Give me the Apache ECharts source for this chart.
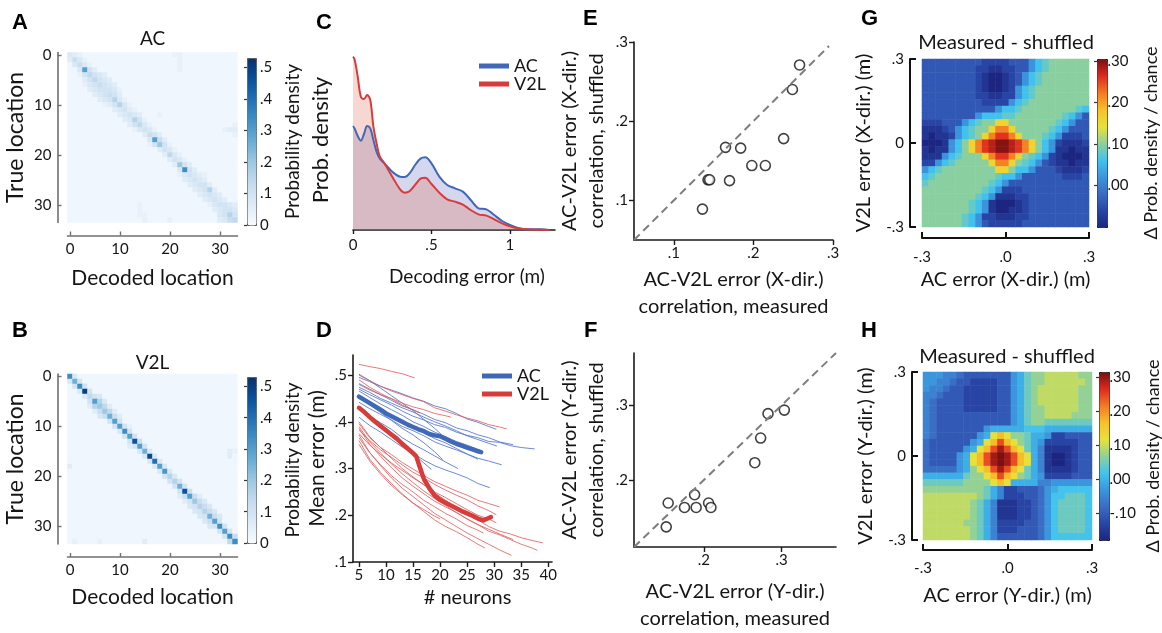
<!DOCTYPE html>
<html>
<head>
<meta charset="utf-8">
<script src="https://cdn.jsdelivr.net/npm/echarts@6.0.0/dist/echarts.min.js"></script>
<style>
html,body{margin:0;padding:0;background:#ffffff;}
#chart{width:1162px;height:633px;}
</style>
</head>
<body>
<div id="chart"></div>
<script>
// ================= DATA =================
// Panels A/B: decoded vs true location (34 x 34), letter level: a = 0, each next letter +0.02
const locCats = [0,1,2,3,4,5,6,7,8,9,10,11,12,13,14,15,16,17,18,19,20,21,22,23,24,25,26,27,28,29,30,31,32,33];
const locationTicks = [0, 10, 20, 30];
const matrixLevelStep = 0.02;
const acMatrixRows = [
  "edcbbbbbbb bbbbbbbbbb bccbbbbbbb bbbb",
  "dgecbbbbbb bbbbbbbbbb bbcbbbbbbb bbbb",
  "begecbbbbb bbbbbbbbbb bbcbbbbbbb bbbb",
  "bbepfdbbbb bbbbbbbbbb bbcbbbbbbb bbbb",
  "bbcfhfedbb bbbbbbbbbb bbbbbbbbbb bbbb",
  "bbbdfhfedb bbbbbbbbbb bbbbbbbbbb bbbb",
  "bbbcefgfed bbbbbbbbbb bbbbbbbbbb bbbb",
  "bbbbdefffe cbbbbbbbbb bbbbbbbbbb bbbb",
  "bbbbbdefgf dbbbbbbbbb bbbbbbbbbb bbbb",
  "bbbbbbdefi ecbbbbbbbb bbbbbbbbbb bbbb",
  "bbbbbbbcdf iecbbbbbbb bbbbbbbbbb bbbb",
  "bbbbbbbbbd efdcbbbbbb bbbbbbbbbb bbbb",
  "bbbbbbbbbb defedbbbcb bbbbbbbbbb bbbb",
  "bbbbbbbbbb bdeifcbbbb bbbbbbbbbb bbbb",
  "bbbbbbbbbb bbdfhecbbb bbbbbbbbbb bbbc",
  "bbbbbbbbbb bbbcefecbb bbbbbbbbbb bcdd",
  "bbbbbbbbbb bbbbbdgfdb bbbbbbbbbb bbbc",
  "bbbbbbbbbb bbbbbbepgd bbbbbbbbbb bbbb",
  "bbbbbbbbbb bbbbbbcfkf cbbbbbbbbb bbbb",
  "bbbbbbbbbb bbbbbbbbdf ecbbbbbbbb bbbb",
  "bbbbbbbbbb bbbbbbbbbd hecbbbbbbb bbbb",
  "bbbbbbbbbb bbbbbbbbbb dfecbbbbbb bbbb",
  "bbbbbbbbbb bbbbbbbbbb bdkfdbbbbb bbbb",
  "bbbbbbbbbb bbbbbbbbbb bberfdbbbb bbbb",
  "bbbbbbbbbb bbbbbbbbbb bbcefedcbb bbbb",
  "bbbbbbbbbb bbbbbbbbbb bbbdefedbb bbbb",
  "bbbbbbbbbb bbbbbbbbbb bbbbdeffdb bbbb",
  "bbbbbbbbbb bbbbbbbbbb bbbbbdefid bbbb",
  "bbbbbbbbbb bbbbbbbbbb bbbbbbdefe dbbb",
  "bbbbbbbbbb bbbbbbbbbb bbbbbbbdef edbb",
  "bbbbbbbbbb bbbbcbbbbb bbbbbbbbce ffed",
  "bbbbbbbbbb bbbbcbbbbb bbbbbbbbbd effe",
  "bbbbbbbbbb bbbbccbbbb bbbbbbbbbb efif",
  "bbbbbbbbbb bbbbbcbbbb cbbbbbbbbb degh"
];
const v2lMatrixRows = [
  "rebbbbbbbb bbbbbbbbbb bbbbbbbbbb bbbb",
  "enfbbbbbbb bbbbbbbbbb bbbbbbbbbb bbbb",
  "bfrfbbbbbb bbbbbbbbbb bbbbbbbbbb bbbb",
  "bbezfbbbbb bbbbbbbbbb bbbbbbbbbb bbbb",
  "bbbehfebbb bbbbbbbbbb bbbbbbbbbb bbbb",
  "bbbbfpiebb bbbbbbbbbb bbbbbbbbbb bbbb",
  "bbbbdikhdb bbbbbbbbbb bbbbbbbbbb bbbb",
  "bbbbbdgkhd bbbbbbbbbb bbbbbbbbbb bbbb",
  "bbbbbbegng dbbbbbbbbb bbbbbbbbbb bbbb",
  "bbbbbbbbfp fbbbbbbbbb bbbbbbbbbb bbbb",
  "bbbbbbbbbf pfcbbbbbbb bbbbbbbbbb bbbb",
  "bbbbbbbbbb erfbbbbbbb bbbbbbbbbb bbbb",
  "bbbbbbbbbb bfpfbbbbbb bbbbbbbbbb bbbb",
  "bbbbbbbbbb bbfxgbbbbb bbbbbbbbbb bbbb",
  "bbbbbbbbbb bbdfpfbbbb bbbbbbbbbb bbbb",
  "bbbbbbbbbb bbbbenebbb bbbbbbbbbb bbdc",
  "bbbbbbbbbb bbbbbeyebb bbbbbbbbbb bbdb",
  "bbbbbbbbbb bbbbbbeueb bbbbbbbbbb bbbb",
  "dbbbbbbbbb bbbbbbbepe bbbbbbbbbb bbbb",
  "bbbbbbbbbb bbbbbbbbeq ebbbbbbbbb bbbb",
  "bbbbbbbbbb bbbbbbbbbf iebbbbbbbb bbbb",
  "bbbbbbbbbb bbbbbbbbbb fifbbbbbbb bbbb",
  "bbbbbbbbbb bbbbbbbbbb bfnfbbbbbb bbbb",
  "bbbbbbbbbb bbbbbbbbbb bbfxgbbbbb bbbb",
  "bbbbbbbbbb bbbbbbbbbb bbdgpgdbbb bbbb",
  "bbbbbbbbbb bbbbbbbbbb bbbdfkgebb bbbb",
  "bbbbbbbbbb bbbbbbbbbb bbbbefigeb bbbb",
  "bbbbbbbbbb bbbbbbbbbb bbbbbefige bbbb",
  "bbbbbbbbbb bbbbbbbbbb bbbbbbefng ebbb",
  "bbbbbbbbbb bbbbbbbbbb bbbbbbbegp fbbb",
  "bbbbbbbbbb bbbbbbbbbb bbbbbbbbef rfbb",
  "bbbbbbbbbb bbbbbbbbbb bbbbbbbbbb fpfb",
  "bbbbbbbbbb bbbbbbbbbb bbbbbbbbbb bfrg",
  "bcbbbbcbbb bbbbbdbbbb bbbbbbbbbb bbhr"
];
const probColorbarTicks = [0, 0.1, 0.2, 0.3, 0.4, 0.5];

// Panel C: decoding error density
const errX       = [0,.01,.03,.05,.07,.09,.11,.13,.15,.17,.20,.25,.30,.33,.36,.40,.43,.46,.50,.55,.60,.65,.70,.75,.80,.85,.90,.95,1.00,1.05,1.10,1.15,1.20,1.25];
const acDensity  = [3.12,3.05,2.82,2.68,2.88,3.12,3.05,2.70,2.35,2.15,2.00,1.75,1.60,1.59,1.70,1.98,2.14,2.18,2.00,1.60,1.35,1.25,1.15,0.90,0.65,0.62,0.45,0.27,0.15,0.06,0.02,0.02,0.02,0.0];
const v2lDensity = [5.20,5.12,4.60,4.00,3.93,4.05,3.90,3.10,2.60,2.22,2.00,1.60,1.22,1.12,1.16,1.38,1.54,1.57,1.38,1.12,0.92,0.85,0.76,0.60,0.47,0.43,0.32,0.20,0.11,0.05,0.02,0.01,0.01,0.0];
const errTicks = [0, 0.5, 1];

// Panel D: mean error vs # neurons
const neuronTicks = [5,10,15,20,25,30,35,40];
const meanErrTicks = [0.1,0.2,0.3,0.4,0.5];
const acRuns = [
  [[5,.470],[7,.458],[9,.447],[11,.436],[13,.423],[15,.412],[17,.404],[19,.394],[21,.388],[23,.378],[25,.371],[27,.366],[29,.358],[31,.356],[33,.349],[35,.345],[37.5,.342]],
  [[5,.495],[7,.486],[9,.476],[11,.468],[13,.460],[15,.451],[17,.444],[19,.434],[21,.428],[23,.418],[25,.406],[27,.399],[29,.390],[30.4,.384]],
  [[5,.482],[7,.470],[9,.458],[11,.446],[13,.434],[15,.426],[17,.416],[19,.405],[21,.398],[23,.387],[25,.381],[27,.372],[29,.366],[31,.357],[33.5,.351]],
  [[5,.442],[7,.428],[9,.416],[11,.404],[13,.390],[15,.381],[17,.370],[19,.357],[21,.348],[23,.340],[25,.331],[27,.322],[29,.316],[31.4,.308]],
  [[5,.410],[7,.392],[9,.378],[11,.362],[13,.346],[15,.333],[17,.318],[19,.306],[21,.297],[23,.289],[25,.280],[27,.268],[29.2,.259]],
  [[5,.430],[7,.412],[9,.398],[11,.384],[13,.366],[15,.352],[17,.340],[19,.327],[21,.314],[23.3,.300]],
  [[5,.455],[7,.436],[9,.420],[11,.403],[13,.386],[15,.372],[17,.355],[19,.336],[20.5,.319]],
  [[5,.428],[7,.407],[9,.388],[11,.369],[13,.350],[15,.332],[17,.312],[18.4,.298]],
  [[5,.466],[7,.452],[9,.438],[11,.426],[13,.414],[15,.400],[17,.390],[19,.378],[21,.368],[23,.358],[25,.350],[27.3,.340]],
  [[5,.450],[7,.437],[9,.425],[11,.413],[13,.401],[15,.390],[17,.378],[19,.364],[21,.355],[23,.343],[25,.331],[27,.320]],
  [[5,.474],[7,.463],[9,.450],[11,.440],[13,.430],[15,.421],[17,.410],[19,.400],[21,.391],[23,.381],[25,.370],[27,.362],[29,.354],[30.5,.348]],
  [[5,.502],[7,.488],[9,.472],[11,.456],[13,.440],[15,.424],[17,.405],[19,.386],[21,.365],[22,.355]]
];
const v2lRuns = [
  [[5,.523],[7,.518],[9,.514],[11,.508],[13,.503],[15.3,.494]],
  [[5,.500],[7,.488],[9,.476],[11,.466],[13,.458],[15,.450],[17,.443],[19,.430],[21,.423],[23,.415],[25,.408],[27,.402],[29,.394],[31,.389],[32.3,.385]],
  [[5,.490],[7,.474],[9,.461],[11,.449],[13,.436],[15,.425],[16.2,.419]],
  [[5,.400],[7,.368],[9,.345],[11,.322],[13,.300],[15,.282],[17,.265],[19,.248],[21,.232],[23,.216],[25,.202],[27,.190],[29,.176],[31,.166],[33,.160],[35,.152],[37,.146],[39,.141]],
  [[5,.390],[7,.357],[9,.333],[11,.310],[13,.289],[15,.270],[17,.252],[19,.236],[21,.221],[23,.206],[25,.192],[27,.180],[29,.166],[31,.158],[33,.148],[35,.138],[37,.130],[38,.125]],
  [[5,.372],[7,.334],[9,.306],[11,.280],[13,.258],[15,.240],[17,.222],[19,.204],[21,.190],[23,.176],[25,.162],[27,.150],[29,.138],[31,.126],[33.2,.114]],
  [[5,.382],[7,.360],[9,.340],[11,.324],[13,.308],[15,.292],[17,.280],[19,.266],[21,.254],[23,.243],[25,.233],[27,.220],[29,.210],[30.4,.201]],
  [[5,.375],[7,.350],[9,.330],[11,.312],[13,.296],[15,.280],[17,.266],[19,.250],[21,.238],[23,.225],[25,.212],[27,.200],[29,.192],[30.4,.184]],
  [[5,.360],[7,.320],[9,.292],[11,.268],[13,.246],[15,.226],[17,.208],[19,.190],[21,.176],[23,.165],[25,.152],[27,.138],[28.3,.130]],
  [[5,.386],[7,.352],[9,.326],[11,.302],[13,.280],[15,.262],[17,.246],[19,.230],[21,.218],[23,.206],[25,.192],[27,.180],[29,.170],[31,.160],[33.5,.148]],
  [[5,.352],[7,.316],[9,.288],[11,.264],[13,.244],[15,.226],[17,.212],[19,.198],[20,.192]],
  [[5,.366],[7,.334],[9,.308],[11,.285],[13,.266],[15,.250],[17,.232],[19,.218],[21,.204],[23,.192],[25,.178],[27,.168],[28,.162]],
  [[5,.480],[7,.468],[9,.458],[11,.450],[13,.440],[15,.432],[17,.426],[19,.418],[21,.413],[22,.410]],
  [[5,.396],[7,.366],[9,.345],[11,.330],[13,.313],[15,.299],[17,.285],[19,.272],[21,.262],[23,.252],[25,.243],[27,.232],[29,.225],[31,.218]]
];
const acMean = [[5,.454],[6,.447],[7,.440],[8,.433],[9,.426],[10,.418],[11,.412],[12,.406],[13,.400],[14,.394],[15,.389],[16,.384],[17,.380],[18,.374],[19,.371],[20,.369],[21,.364],[22,.358],[23,.353],[24,.349],[25,.345],[26,.341],[27,.337],[27.6,.335]];
const v2lMean = [[5,.430],[6,.421],[7,.410],[8,.400],[9,.391],[10,.382],[11,.373],[12,.364],[13,.353],[14,.343],[15,.333],[15.6,.326],[16.2,.305],[17,.278],[18,.258],[19,.242],[20,.233],[21,.227],[22,.221],[23,.215],[24,.209],[25,.204],[26,.199],[27,.193],[28,.189],[28.8,.193],[29.4,.196]];

// Panels E/F: error correlations
const eMeasured = [0.258,0.249,0.238,0.165,0.184,0.198,0.215,0.143,0.145,0.170,0.136];
const eShuffled = [0.271,0.240,0.178,0.167,0.166,0.144,0.144,0.126,0.126,0.125,0.089];
const eDiagonal = [0.05, 0.295];
const eTicks = [0.1, 0.2, 0.3];
const fMeasured = [0.3035,0.2825,0.273,0.2655,0.188,0.154,0.206,0.175,0.190,0.209,0.1515];
const fShuffled = [0.2935,0.2887,0.256,0.223,0.180,0.169,0.169,0.163,0.163,0.163,0.137];
const fDiagonal = [0.11, 0.37];
const fTicks = [0.2, 0.3];

// Panels G/H: measured - shuffled joint error maps (25 x 25, rows from +0.3 down to -0.3)
const errCells = [0,1,2,3,4,5,6,7,8,9,10,11,12,13,14,15,16,17,18,19,20,21,22,23,24];
const jointTicks = [-0.3, 0, 0.3];
const gLevelBase = -0.10, gLevelStep = 0.02;
const gRows = [
  "dddddddddccccdddgijkkkkkk",
  "ddddddddccbbccddgijkkkkkk",
  "ddddddddcbaabcdgijkkkkkkk",
  "ddddddddcbaabcdgijkkkkkkk",
  "ddddddddcbaabcgijkkkkkkkk",
  "ddddddddccbbccgijkkkkkkkk",
  "dddddddddccccgijkkkkkkkkk",
  "dddddddddddgiijkkkkkkkkji",
  "ddddddddgiiijjkkkkkkkjigd",
  "cccdddgijkknnkkkkkkkjigdd",
  "bbbcdgijkknqqnkkkkkjigddd",
  "babbcgijknqssqnkkkjigcccd",
  "aaabgiknqstuutsqnkigcbbbc",
  "babbgiknqstuutsqnkigbbabb",
  "bbbgijkkknqssqnkjigcbaaab",
  "ccgijkkkkknqqnkjigdcbbabb",
  "gijkkkkkkkknnkiigdddcbbbc",
  "ijkkkkkkkkkjiigddddddcccd",
  "jkkkkkkkkkjigdddddddddddd",
  "kkkkkkkkkjigcccdddddddddd",
  "kkkkkkkkjigbbbccddddddddd",
  "kkkkkkkjigbaaabcddddddddd",
  "kkkkkkkjigbaabbcddddddddd",
  "kkkkkkjigccbbbccddddddddd",
  "kkkkkkjigdcccccdddddddddd"
];
const gColorbarTicks = [0, 0.1, 0.2, 0.3];
const hLevelBase = -0.18, hLevelStep = 0.025;
const hRows = [
  "gggffedddddddghjkklllllkk",
  "ggffeddccccddghjkkllllllk",
  "gffeddcccccddghjkllllllkk",
  "ffedddcccccddghjkllllllkk",
  "feddddcccccddghjkllllllkk",
  "feddddcccccddghjkklllllkk",
  "fedddddddddddghjkkllllkkk",
  "fedddddddddddghjkkjjjjjjj",
  "fedddddddghhhhhiiihhhhhhh",
  "feddddddghmomkkjhhgccdddd",
  "eddddddghmoromkjhgcccccdd",
  "edddddghmortromjhfbbbbcdd",
  "eddddghmortutromhfbaabcdd",
  "eddddghmortutromhfbaabcdd",
  "eeeeeghkmortromjhfbbbbcdd",
  "hhhhhhjkkmoromkjhgccccddd",
  "jjjjjjkkkkmomhhhhffgggggg",
  "kkkkkkkkkjhfccdddeghiiiii",
  "llllllllkjhfcccddegiijjji",
  "lllllllkjhfbbbccdegijjjji",
  "lllllllkjhfbbbccdegijjjji",
  "lllllllkjhfbbbccdegijjjji",
  "llllllkkjhfccccddegijjjji",
  "lllllllkjhfcccdddegijjjji",
  "lllllllkjhfddddddegiiiiii"
];
const hColorbarTicks = [-0.1, 0, 0.1, 0.2, 0.3];

// ================= HELPERS =================
const LEVELS = 'abcdefghijklmnopqrstuvwxyz';
function cellsFromRows(rows, base, step) {
  const cells = [];
  rows.forEach(function (row, r) {
    const chars = row.replace(/ /g, '');
    for (let c = 0; c < chars.length; c++) {
      cells.push([c, r, Math.round((base + LEVELS.indexOf(chars[c]) * step) * 10000) / 10000]);
    }
  });
  return cells;
}
function merge(a, b) {
  const out = Object.assign({}, a);
  for (const k in b) {
    const bv = b[k], av = a ? a[k] : undefined;
    if (bv && typeof bv === 'object' && !Array.isArray(bv) && av && typeof av === 'object' && !Array.isArray(av)) out[k] = merge(av, bv);
    else out[k] = bv;
  }
  return out;
}
const fmtShort = v => String(Math.round(v * 1000) / 1000).replace(/^(-?)0\./, '$1.');
const fmtTwo = v => {
  if (Math.abs(v) < 1e-9) return '.00';
  const body = Math.abs(v).toFixed(2).replace(/^0/, '');
  return (v < 0 ? '-' : '') + body;
};
const fmtZeroDot = v => (Math.abs(v) < 1e-9 ? '.0' : fmtShort(v));

const FONT = 'Lato, "Open Sans", sans-serif';
const INK = '#1b1b1b';
const GREY = '#707070';
const AC_COLOR = '#4068b8';
const V2L_COLOR = '#d83c3a';
const labelStyle = {color: '#151515', fontSize: 15, fontFamily: FONT};
const nameStyle = {color: '#151515', fontSize: 20, fontFamily: FONT, lineHeight: 27};

function vAxis(extra) {
  return merge({
    type: 'value', splitLine: {show: false}, nameLocation: 'middle',
    axisLine: {show: true, onZero: false, lineStyle: {color: INK, width: 1.6}},
    axisTick: {show: true, length: 5, lineStyle: {color: INK, width: 1.4}},
    axisLabel: merge(labelStyle, {margin: 6}),
    nameTextStyle: nameStyle
  }, extra);
}
function hidden(extra) { return merge({type: 'value', show: false, splitLine: {show: false}}, extra); }
const every10 = idx => locationTicks.indexOf(locCats[idx]) >= 0;
function locAxis(extra) {
  return merge({
    type: 'category', data: locCats, nameLocation: 'middle',
    axisLine: {show: true, lineStyle: {color: GREY, width: 1.6}},
    axisTick: {show: true, alignWithLabel: true, interval: every10, inside: true, length: 4, lineStyle: {color: GREY, width: 1.4}},
    axisLabel: merge(labelStyle, {interval: every10, margin: 6}),
    splitLine: {show: false},
    nameTextStyle: merge(nameStyle, {fontSize: 21})
  }, extra);
}
function cbAxis(extra) {
  return merge({
    type: 'value', position: 'right', nameLocation: 'middle', nameRotate: 90,
    axisLine: {show: false}, splitLine: {show: false},
    axisTick: {show: true, inside: true, length: 3, lineStyle: {color: '#333', width: 1.2}},
    axisLabel: merge(labelStyle, {margin: 4, showMinLabel: true, showMaxLabel: true}),
    nameTextStyle: merge(nameStyle, {fontSize: 18})
  }, extra);
}
const catHidden = (g, isY) => ({type: 'category', gridIndex: g, data: errCells, show: false, inverse: !!isY});
function jointAxis(extra) {
  return vAxis(merge({min: -0.3, max: 0.3,
    axisLine: {lineStyle: {width: 2, color: '#111'}},
    axisTick: {inside: true, length: 6, customValues: jointTicks, lineStyle: {width: 2, color: '#111'}},
    axisLabel: {customValues: jointTicks}}, extra));
}

// ================= SERIES =================
const series = [];
const idx = {};
idx.A = series.push({type: 'heatmap', xAxisIndex: 0, yAxisIndex: 0, data: cellsFromRows(acMatrixRows, 0, matrixLevelStep), progressive: 0, silent: true}) - 1;
idx.B = series.push({type: 'heatmap', xAxisIndex: 2, yAxisIndex: 2, data: cellsFromRows(v2lMatrixRows, 0, matrixLevelStep), progressive: 0, silent: true}) - 1;

series.push({type: 'line', name: 'AC', xAxisIndex: 4, yAxisIndex: 4, data: errX.map((x, i) => [x, acDensity[i]]), smooth: 0.35, symbol: 'none',
  lineStyle: {color: AC_COLOR, width: 2}, itemStyle: {color: AC_COLOR}, areaStyle: {color: 'rgba(72,84,184,0.33)'}, silent: true});
series.push({type: 'line', name: 'V2L', xAxisIndex: 4, yAxisIndex: 4, data: errX.map((x, i) => [x, v2lDensity[i]]), smooth: 0.35, symbol: 'none',
  lineStyle: {color: V2L_COLOR, width: 2}, itemStyle: {color: V2L_COLOR}, areaStyle: {color: 'rgba(225,110,90,0.40)'}, silent: true});

acRuns.forEach(run => series.push({type: 'line', xAxisIndex: 5, yAxisIndex: 5, data: run, symbol: 'none', silent: true,
  lineStyle: {color: 'rgba(82,116,205,0.85)', width: 1}}));
v2lRuns.forEach(run => series.push({type: 'line', xAxisIndex: 5, yAxisIndex: 5, data: run, symbol: 'none', silent: true,
  lineStyle: {color: 'rgba(226,88,88,0.8)', width: 1}}));
series.push({type: 'line', name: 'AC', xAxisIndex: 5, yAxisIndex: 5, data: acMean, symbol: 'none', silent: true,
  lineStyle: {color: AC_COLOR, width: 4.5, cap: 'round', join: 'round'}, itemStyle: {color: AC_COLOR}});
series.push({type: 'line', name: 'V2L', xAxisIndex: 5, yAxisIndex: 5, data: v2lMean, symbol: 'none', silent: true,
  lineStyle: {color: V2L_COLOR, width: 4.5, cap: 'round', join: 'round'}, itemStyle: {color: V2L_COLOR}});

const dashed = {color: '#7d7d7d', width: 2, type: [8, 5]};
const ring = {color: '#ffffff', borderColor: '#111', borderWidth: 1.6};
series.push({type: 'line', xAxisIndex: 6, yAxisIndex: 6, data: eDiagonal.map(v => [v, v]), symbol: 'none', silent: true, lineStyle: dashed});
series.push({type: 'scatter', xAxisIndex: 6, yAxisIndex: 6, data: eMeasured.map((x, i) => [x, eShuffled[i]]), symbol: 'circle', symbolSize: 10, itemStyle: ring, silent: true});
series.push({type: 'line', xAxisIndex: 7, yAxisIndex: 7, data: fDiagonal.map(v => [v, v]), symbol: 'none', silent: true, lineStyle: dashed});
series.push({type: 'scatter', xAxisIndex: 7, yAxisIndex: 7, data: fMeasured.map((x, i) => [x, fShuffled[i]]), symbol: 'circle', symbolSize: 10, itemStyle: ring, silent: true});

idx.G = series.push({type: 'heatmap', xAxisIndex: 8, yAxisIndex: 8, data: cellsFromRows(gRows, gLevelBase, gLevelStep), progressive: 0, silent: true}) - 1;
idx.H = series.push({type: 'heatmap', xAxisIndex: 11, yAxisIndex: 11, data: cellsFromRows(hRows, hLevelBase, hLevelStep), progressive: 0, silent: true}) - 1;

const BLUES = ['#f7fbff', '#deebf7', '#c6dbef', '#9ecae1', '#6baed6', '#4292c6', '#2171b5', '#08519c', '#08306b'];
const JET = ['#1c2580', '#2845a5', '#3a6cc4', '#3b95dc', '#41c3ef', '#8fd09a', '#e6e23a', '#f7c12a', '#f37b24', '#de2b20', '#7a1010'];

const letter = (t, x, y) => ({type: 'text', x: x, y: y, silent: true,
  style: {text: t, font: 'bold 22px "Liberation Sans", Arial, sans-serif', fill: '#000', textVerticalAlign: 'top'}});

const option = {
  animation: false,
  backgroundColor: '#ffffff',
  textStyle: {fontFamily: FONT},
  title: [
    {text: 'AC', left: 152.5, top: 29, textAlign: 'center', padding: 0, textStyle: {fontSize: 19, fontWeight: 'normal', color: '#151515', fontFamily: FONT}},
    {text: 'V2L', left: 152.5, top: 353, textAlign: 'center', padding: 0, textStyle: {fontSize: 19, fontWeight: 'normal', color: '#151515', fontFamily: FONT}},
    {text: 'Measured - shuffled', left: 1006, top: 33, textAlign: 'center', padding: 0, textStyle: {fontSize: 20, fontWeight: 'normal', color: '#151515', fontFamily: FONT}},
    {text: 'Measured - shuffled', left: 1007, top: 347, textAlign: 'center', padding: 0, textStyle: {fontSize: 20, fontWeight: 'normal', color: '#151515', fontFamily: FONT}}
  ],
  legend: [
    {left: 474, top: 52, orient: 'vertical', icon: 'rect', itemWidth: 30, itemHeight: 5, itemGap: 0, selectedMode: false,
      textStyle: {fontSize: 18, color: '#151515', fontFamily: FONT},
      data: [{name: 'AC', itemStyle: {color: AC_COLOR}}, {name: 'V2L', itemStyle: {color: V2L_COLOR}}]},
    {left: 477, top: 362, orient: 'vertical', icon: 'rect', itemWidth: 30, itemHeight: 5, itemGap: 0, selectedMode: false,
      textStyle: {fontSize: 18, color: '#151515', fontFamily: FONT},
      data: [{name: 'AC', itemStyle: {color: AC_COLOR}}, {name: 'V2L', itemStyle: {color: V2L_COLOR}}]}
  ],
  grid: [
    {left: 67.5, top: 52.5, width: 170, height: 170},   // 0 A
    {left: 247, top: 58, width: 9, height: 167},        // 1 A colorbar
    {left: 67.5, top: 374, width: 170, height: 170},    // 2 B
    {left: 247, top: 377, width: 9, height: 166},       // 3 B colorbar
    {left: 353, top: 50, width: 202, height: 180},      // 4 C
    {left: 353, top: 355, width: 199, height: 207},     // 5 D
    {left: 634, top: 42, width: 199, height: 198},      // 6 E
    {left: 634, top: 353, width: 202, height: 200},     // 7 F
    {left: 922, top: 59, width: 167, height: 168},      // 8 G
    {left: 1097, top: 59, width: 10, height: 168},      // 9 G colorbar
    {left: 923, top: 372, width: 169, height: 168},     // 10 H
    {left: 1099, top: 372, width: 10, height: 168}      // 11 H colorbar
  ],
  xAxis: [
    locAxis({gridIndex: 0, position: 'bottom', offset: 13, name: 'Decoded location', nameGap: 29}),
    hidden({gridIndex: 1}),
    locAxis({gridIndex: 2, position: 'bottom', offset: 13, name: 'Decoded location', nameGap: 27}),
    hidden({gridIndex: 3}),
    vAxis({gridIndex: 4, min: 0, max: 1.287, name: 'Decoding error (m)', nameGap: 33,
      nameTextStyle: {fontSize: 19, padding: [0, 0, 0, 26]},
      axisTick: {length: 4, customValues: errTicks}, axisLabel: {customValues: errTicks, formatter: fmtShort, margin: 8}}),
    vAxis({gridIndex: 5, min: 3.9, max: 40.7, name: '# neurons', nameGap: 21,
      nameTextStyle: {padding: [0, 0, 0, 30]},
      axisTick: {customValues: neuronTicks}, axisLabel: {customValues: neuronTicks, margin: 6}}),
    vAxis({gridIndex: 6, min: 0.05, max: 0.3, name: 'AC-V2L error (X-dir.)\ncorrelation, measured', nameGap: 26,
      axisTick: {customValues: eTicks}, axisLabel: {customValues: eTicks, formatter: fmtShort}}),
    vAxis({gridIndex: 7, min: 0.11, max: 0.37, name: 'AC-V2L error (Y-dir.)\ncorrelation, measured', nameGap: 31,
      axisTick: {customValues: fTicks}, axisLabel: {customValues: fTicks, formatter: fmtShort}}),
    catHidden(8, false),
    jointAxis({gridIndex: 8, position: 'bottom', offset: 11, name: 'AC error (X-dir.) (m)', nameGap: 24,
      axisLabel: {formatter: fmtZeroDot, margin: 12}}),
    hidden({gridIndex: 9}),
    catHidden(10, false),
    jointAxis({gridIndex: 10, position: 'bottom', offset: 10, name: 'AC error (Y-dir.) (m)', nameGap: 32,
      axisLabel: {formatter: fmtZeroDot, margin: 11}}),
    hidden({gridIndex: 11})
  ],
  yAxis: [
    locAxis({gridIndex: 0, inverse: true, position: 'left', offset: 10, name: 'True location', nameGap: 28, nameRotate: 90,
      nameTextStyle: {fontSize: 23}}),
    cbAxis({gridIndex: 1, min: 0, max: 0.53, name: 'Probability density', nameGap: 23,
      nameTextStyle: {fontSize: 19},
      axisTick: {customValues: probColorbarTicks}, axisLabel: {customValues: probColorbarTicks, formatter: fmtShort}}),
    locAxis({gridIndex: 2, inverse: true, position: 'left', offset: 10, name: 'True location', nameGap: 28, nameRotate: 90,
      nameTextStyle: {fontSize: 23}}),
    cbAxis({gridIndex: 3, min: 0, max: 0.53, name: 'Probability density', nameGap: 23,
      nameTextStyle: {fontSize: 19},
      axisTick: {customValues: probColorbarTicks}, axisLabel: {customValues: probColorbarTicks, formatter: fmtShort}}),
    vAxis({gridIndex: 4, min: 0, max: 5.4, name: 'Prob. density', nameGap: 19, nameRotate: 90,
      nameTextStyle: {fontSize: 22},
      axisLine: {show: false}, axisTick: {show: false}, axisLabel: {show: false}}),
    vAxis({gridIndex: 5, min: 0.1, max: 0.543, name: 'Mean error (m)', nameGap: 21, nameRotate: 90,
      nameTextStyle: {fontSize: 21},
      axisTick: {customValues: meanErrTicks}, axisLabel: {customValues: meanErrTicks, formatter: fmtShort}}),
    vAxis({gridIndex: 6, min: 0.05, max: 0.3, name: 'AC-V2L error (X-dir.)\ncorrelation, shuffled', nameGap: 24, nameRotate: 90,
      axisTick: {customValues: eTicks}, axisLabel: {customValues: eTicks, formatter: fmtShort}}),
    vAxis({gridIndex: 7, min: 0.11, max: 0.37, name: 'AC-V2L error (Y-dir.)\ncorrelation, shuffled', nameGap: 24, nameRotate: 90,
      axisTick: {customValues: fTicks}, axisLabel: {customValues: fTicks, formatter: fmtShort}}),
    catHidden(8, true),
    jointAxis({gridIndex: 8, position: 'left', offset: 12, name: 'V2L error (X-dir.) (m)', nameGap: 33, nameRotate: 90,
      axisLabel: {formatter: fmtShort, margin: 6}}),
    cbAxis({gridIndex: 9, min: -0.1, max: 0.305, name: '\u0394 Prob. density / chance', nameGap: 38,
      axisTick: {customValues: gColorbarTicks}, axisLabel: {customValues: gColorbarTicks, formatter: fmtTwo, margin: 8}}),
    catHidden(10, true),
    jointAxis({gridIndex: 10, position: 'left', offset: 11, name: 'V2L error (Y-dir.) (m)', nameGap: 33, nameRotate: 90,
      axisLabel: {formatter: fmtShort, margin: 6}}),
    cbAxis({gridIndex: 11, min: -0.18, max: 0.315, name: '\u0394 Prob. density / chance', nameGap: 36,
      axisTick: {customValues: hColorbarTicks}, axisLabel: {customValues: hColorbarTicks, formatter: fmtTwo, margin: 8}})
  ],
  visualMap: [
    {type: 'continuous', seriesIndex: idx.A, dimension: 2, min: 0, max: 0.53, inRange: {color: BLUES},
      left: 247, top: 58, itemWidth: 9, itemHeight: 167, calculable: false, hoverLink: false, padding: 0, borderColor: '#555', borderWidth: 1},
    {type: 'continuous', seriesIndex: idx.B, dimension: 2, min: 0, max: 0.53, inRange: {color: BLUES},
      left: 247, top: 377, itemWidth: 9, itemHeight: 166, calculable: false, hoverLink: false, padding: 0, borderColor: '#555', borderWidth: 1},
    {type: 'continuous', seriesIndex: idx.G, dimension: 2, min: -0.1, max: 0.305, inRange: {color: JET},
      left: 1097, top: 59, itemWidth: 10, itemHeight: 168, calculable: false, hoverLink: false, padding: 0, borderColor: '#111', borderWidth: 1},
    {type: 'continuous', seriesIndex: idx.H, dimension: 2, min: -0.18, max: 0.315, inRange: {color: JET},
      left: 1099, top: 372, itemWidth: 10, itemHeight: 168, calculable: false, hoverLink: false, padding: 0, borderColor: '#111', borderWidth: 1}
  ],
  graphic: [
    letter('A', 12, 12), letter('B', 12, 320),
    letter('C', 316, 12), letter('D', 316, 320),
    letter('E', 583, 8), letter('F', 584, 320),
    letter('G', 861, 8), letter('H', 861, 320)
  ],
  series: series
};

const chart = echarts.init(document.getElementById('chart'), null, {renderer: 'canvas', width: 1162, height: 633});
chart.setOption(option);
</script>
</body>
</html>
